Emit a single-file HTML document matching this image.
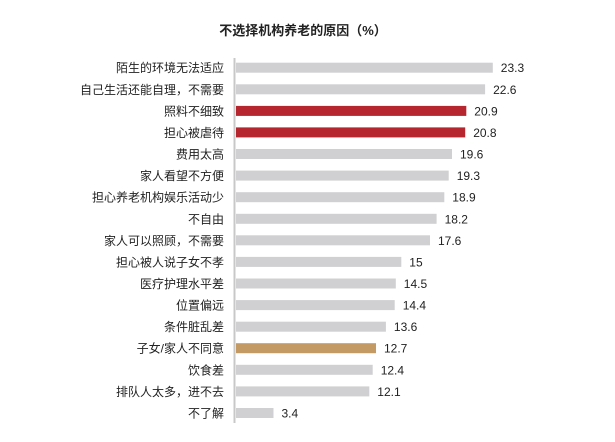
<!DOCTYPE html>
<html><head><meta charset="utf-8"><style>
html,body{margin:0;padding:0;background:#fff;}
body{width:615px;height:437px;overflow:hidden;}
</style></head><body>
<svg width="615" height="437" xmlns="http://www.w3.org/2000/svg" font-family="'Liberation Sans','Noto Sans CJK SC',sans-serif" font-size="12" fill="#222">
<text x="303" y="35" text-anchor="middle" font-size="13" font-weight="bold">不选择机构养老的原因（%）</text>
<g fill="#d0d0d2">
<rect x="236" y="62.7" width="256.8" height="10"/>
<rect x="236" y="84.3" width="249.1" height="10"/>
<rect x="236" y="105.9" width="230.3" height="10" fill="#b5262f"/>
<rect x="236" y="127.4" width="229.2" height="10" fill="#b5262f"/>
<rect x="236" y="149.0" width="216.0" height="10"/>
<rect x="236" y="170.6" width="212.7" height="10"/>
<rect x="236" y="192.2" width="208.3" height="10"/>
<rect x="236" y="213.8" width="200.6" height="10"/>
<rect x="236" y="235.3" width="194.0" height="10"/>
<rect x="236" y="256.9" width="165.3" height="10"/>
<rect x="236" y="278.5" width="159.8" height="10"/>
<rect x="236" y="300.1" width="158.7" height="10"/>
<rect x="236" y="321.7" width="149.9" height="10"/>
<rect x="236" y="343.2" width="140.0" height="10" fill="#c49a64"/>
<rect x="236" y="364.8" width="136.7" height="10"/>
<rect x="236" y="386.4" width="133.3" height="10"/>
<rect x="236" y="408.0" width="37.5" height="10"/>
</g>
<g text-anchor="end">
<text x="224" y="72.2">陌生的环境无法适应</text>
<text x="224" y="93.8">自己生活还能自理，不需要</text>
<text x="224" y="115.4">照料不细致</text>
<text x="224" y="136.9">担心被虐待</text>
<text x="224" y="158.5">费用太高</text>
<text x="224" y="180.1">家人看望不方便</text>
<text x="224" y="201.7">担心养老机构娱乐活动少</text>
<text x="224" y="223.3">不自由</text>
<text x="224" y="244.8">家人可以照顾，不需要</text>
<text x="224" y="266.4">担心被人说子女不孝</text>
<text x="224" y="288.0">医疗护理水平差</text>
<text x="224" y="309.6">位置偏远</text>
<text x="224" y="331.2">条件脏乱差</text>
<text x="224" y="352.7">子女/家人不同意</text>
<text x="224" y="374.3">饮食差</text>
<text x="224" y="395.9">排队人太多，进不去</text>
<text x="224" y="417.5">不了解</text>
</g>
<text x="500.8" y="72.2">23.3</text>
<text x="493.1" y="93.8">22.6</text>
<text x="474.3" y="115.4">20.9</text>
<text x="473.2" y="136.9">20.8</text>
<text x="460.0" y="158.5">19.6</text>
<text x="456.7" y="180.1">19.3</text>
<text x="452.3" y="201.7">18.9</text>
<text x="444.6" y="223.3">18.2</text>
<text x="438.0" y="244.8">17.6</text>
<text x="409.3" y="266.4">15</text>
<text x="403.8" y="288.0">14.5</text>
<text x="402.7" y="309.6">14.4</text>
<text x="393.9" y="331.2">13.6</text>
<text x="384.0" y="352.7">12.7</text>
<text x="380.7" y="374.3">12.4</text>
<text x="377.3" y="395.9">12.1</text>
<text x="281.5" y="417.5">3.4</text>
<line x1="234.5" y1="58" x2="234.5" y2="423" stroke="#c8c8c8" stroke-width="2"/>
</svg>
</body></html>
